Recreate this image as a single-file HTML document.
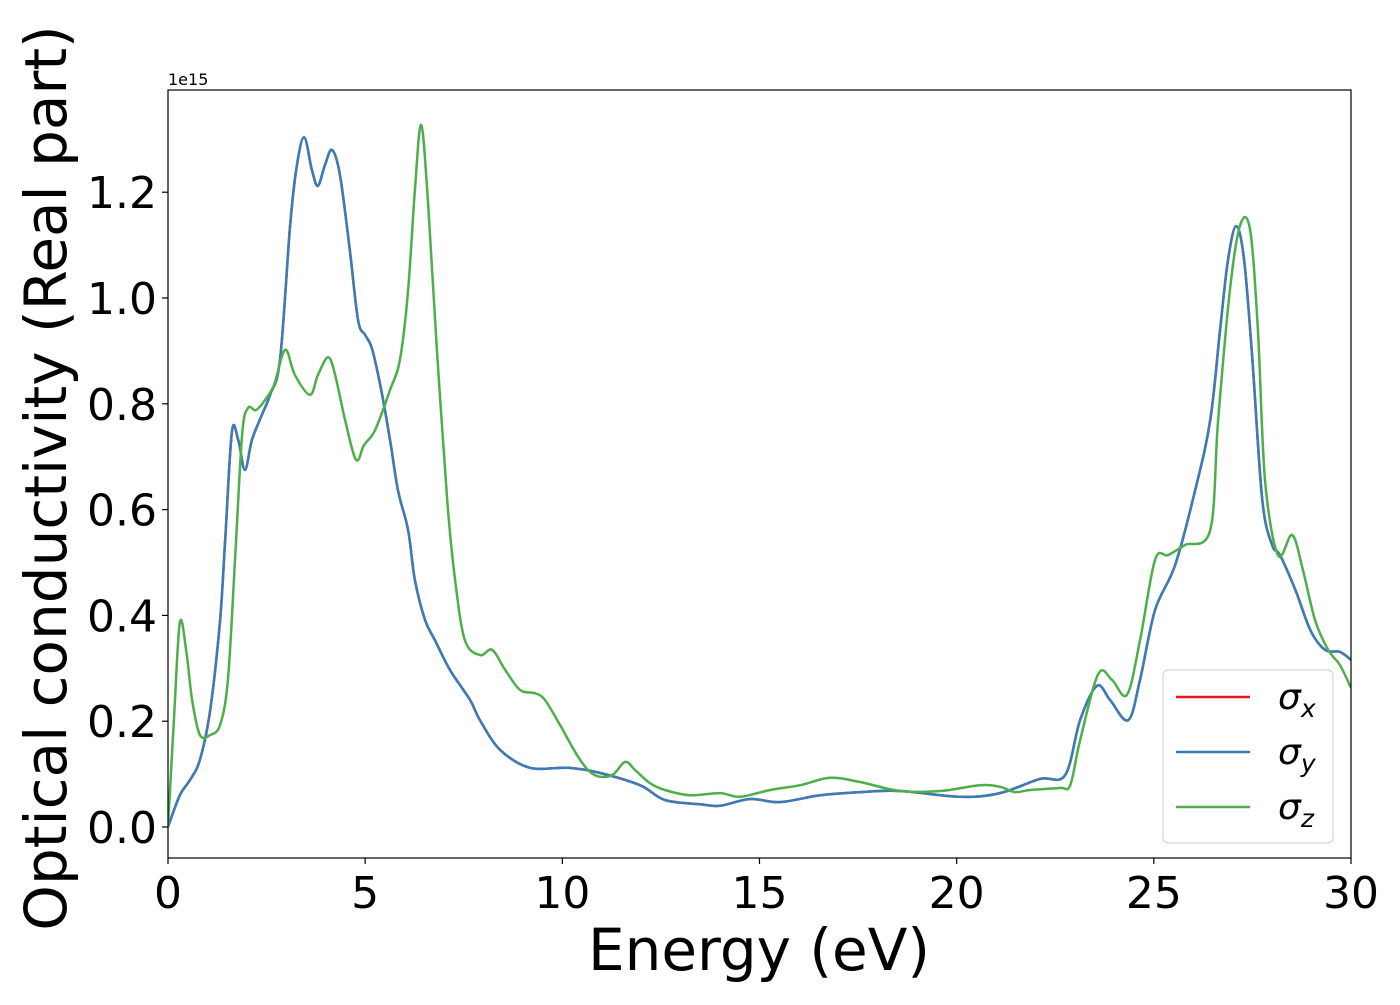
<!DOCTYPE html>
<html><head><meta charset="utf-8"><style>
body{margin:0;background:#fff}
svg text{font-family:"DejaVu Sans","Liberation Sans",sans-serif}
</style></head><body>
<svg id="chart" width="1400" height="1000" viewBox="0 0 1400 1000" xmlns="http://www.w3.org/2000/svg">
<rect width="1400" height="1000" fill="#fff"/>
<g id="plot"></g>
</svg>
<script>
const energyB=[0,0.30,0.56,0.81,1.07,1.32,1.45,1.62,1.78,1.95,2.13,2.38,2.59,2.84,3.09,3.25,3.45,3.65,3.80,3.98,4.16,4.36,4.61,4.82,5.00,5.17,5.38,5.63,5.83,6.09,6.26,6.52,6.77,7.15,7.66,7.91,8.42,9.18,10.15,10.96,11.97,12.60,13.49,14.0,14.76,15.52,16.54,17.55,18.56,20.09,21.10,22.11,22.75,23.13,23.56,23.89,24.35,24.65,25.03,25.54,26.05,26.43,26.68,26.88,27.09,27.29,27.50,27.75,28.0,28.2,28.59,28.97,29.34,29.72,30];
const sigmaXY=[0,0.06,0.089,0.127,0.221,0.391,0.543,0.747,0.732,0.675,0.732,0.779,0.817,0.883,1.130,1.242,1.304,1.242,1.212,1.251,1.280,1.233,1.091,0.958,0.930,0.905,0.836,0.732,0.637,0.561,0.467,0.391,0.353,0.297,0.240,0.202,0.146,0.112,0.112,0.102,0.079,0.051,0.043,0.040,0.053,0.047,0.060,0.066,0.068,0.057,0.064,0.091,0.098,0.202,0.267,0.240,0.202,0.278,0.410,0.495,0.637,0.769,0.940,1.072,1.136,1.072,0.883,0.618,0.533,0.514,0.448,0.372,0.335,0.331,0.316];
const energyZ=[0,0.15,0.30,0.46,0.61,0.81,1.07,1.32,1.52,1.70,1.88,2.03,2.23,2.46,2.69,2.97,3.22,3.60,3.80,4.06,4.24,4.49,4.77,4.97,5.25,5.63,5.88,6.09,6.26,6.42,6.59,6.82,7.08,7.28,7.53,7.91,8.22,8.55,8.93,9.31,9.56,9.94,10.45,10.83,11.26,11.59,11.84,12.22,12.60,13.24,14.0,14.51,15.27,16.03,16.79,17.55,18.56,19.58,20.59,21.10,21.48,21.86,22.62,22.88,23.13,23.59,23.94,24.32,24.65,25.03,25.36,25.79,26.43,26.63,26.93,27.19,27.44,27.64,27.82,28.15,28.51,28.78,29.09,29.42,29.72,30];
const sigmaZ=[0,0.202,0.386,0.335,0.240,0.174,0.174,0.193,0.278,0.505,0.741,0.792,0.788,0.807,0.836,0.902,0.854,0.817,0.854,0.888,0.854,0.769,0.694,0.722,0.750,0.826,0.883,1.015,1.204,1.327,1.185,0.902,0.618,0.467,0.353,0.325,0.335,0.297,0.259,0.253,0.240,0.193,0.127,0.098,0.098,0.123,0.108,0.083,0.070,0.060,0.064,0.057,0.070,0.079,0.093,0.085,0.068,0.068,0.079,0.076,0.066,0.070,0.074,0.079,0.164,0.289,0.278,0.250,0.353,0.505,0.514,0.533,0.561,0.769,1.015,1.138,1.129,0.940,0.656,0.514,0.552,0.486,0.391,0.335,0.306,0.263];
const xTicks=[0,5,10,15,20,25,30];
const yTicks=[0.0,0.2,0.4,0.6,0.8,1.0,1.2];
const L=168,R=1351,T=90,B=858;
const X=v=>L+(v/30)*(R-L);
const Y=v=>827-v*529;
const NS='http://www.w3.org/2000/svg';
const g=document.getElementById('plot');
function mk(t,a,p){const e=document.createElementNS(NS,t);for(const k in a)e.setAttribute(k,a[k]);(p||g).appendChild(e);return e;}
function pathFor(xs,ys){const p=xs.map((x,i)=>[X(x),Y(ys[i])]);let d='M'+p[0][0]+','+p[0][1];
for(let i=0;i<p.length-1;i++){const p0=p[Math.max(0,i-1)],p1=p[i],p2=p[i+1],p3=p[Math.min(p.length-1,i+2)];
const c1=[p1[0]+(p2[0]-p0[0])/6,p1[1]+(p2[1]-p0[1])/6],c2=[p2[0]-(p3[0]-p1[0])/6,p2[1]-(p3[1]-p1[1])/6];
d+=`C${c1[0].toFixed(1)},${c1[1].toFixed(1)} ${c2[0].toFixed(1)},${c2[1].toFixed(1)} ${p2[0].toFixed(1)},${p2[1].toFixed(1)}`;}return d;}
const clip=mk('clipPath',{id:'cp'});mk('rect',{x:L,y:T,width:R-L,height:B-T},clip);
const lines=mk('g',{'clip-path':'url(#cp)'});
let e;
e=mk('path',{d:pathFor(energyB,sigmaXY),fill:'none',stroke:'#e41a1c','stroke-width':2.5},lines);

e=mk('path',{d:pathFor(energyB,sigmaXY),fill:'none',stroke:'#377eb8','stroke-width':2.5},lines);

e=mk('path',{d:pathFor(energyZ,sigmaZ),fill:'none',stroke:'#4daf4a','stroke-width':2.5},lines);

e=mk('rect',{x:L,y:T,width:R-L,height:B-T,fill:'none',stroke:'#000','stroke-width':1.2});

xTicks.forEach(v=>{mk('line',{x1:X(v),x2:X(v),y1:B,y2:B+6,stroke:'#000','stroke-width':1.2});
e=mk('text',{x:X(v),y:908,'font-size':44,'text-anchor':'middle'});e.textContent=v;
});
yTicks.forEach(v=>{mk('line',{x1:L-6,x2:L,y1:Y(v),y2:Y(v),stroke:'#000','stroke-width':1.2});
e=mk('text',{x:157,y:Y(v)+16,'font-size':44,'text-anchor':'end'});e.textContent=v.toFixed(1);
});
e=mk('text',{x:168,y:85,'font-size':16});e.textContent='1e15';

e=mk('text',{x:759,y:970,'font-size':58,'text-anchor':'middle'});e.textContent='Energy (eV)';

e=mk('text',{x:0,y:0,'font-size':58,'text-anchor':'middle',transform:'translate(66,478) rotate(-90)'});e.textContent='Optical conductivity (Real part)';

const lg=mk('g',{});
mk('rect',{x:1163,y:670,width:170,height:173,rx:5,fill:'#fff','fill-opacity':0.8,stroke:'#ccc','stroke-width':1},lg);
const names=['x','y','z'],cols=['#e41a1c','#377eb8','#4daf4a'];
names.forEach((n,i)=>{const yy=697+i*55;
mk('line',{x1:1176,x2:1250,y1:yy,y2:yy,stroke:cols[i],'stroke-width':2.5},lg);
e=mk('text',{x:1278,y:yy+12,'font-size':36,'font-style':'italic'},lg);

e.innerHTML='σ<tspan font-size="25" dy="8">'+n+'</tspan>';});
</script>
</body></html>
